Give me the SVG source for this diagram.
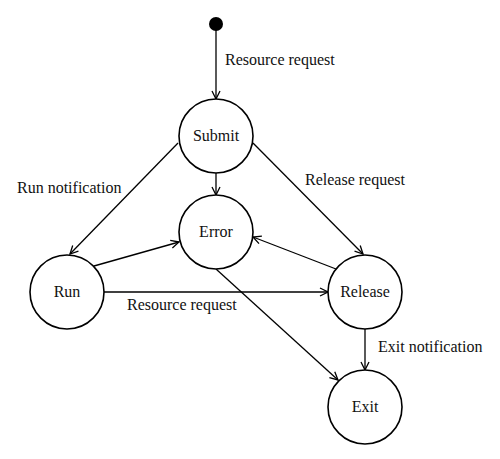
<svg xmlns="http://www.w3.org/2000/svg" width="500" height="459" viewBox="0 0 500 459">
<defs>
<marker id="arr" viewBox="0 0 10 10" refX="9" refY="5" markerWidth="10" markerHeight="10" markerUnits="userSpaceOnUse" orient="auto">
<path d="M1,1 L9,5 L1,9" fill="none" stroke="#000" stroke-width="1.3"/>
</marker>
<style>
.n{fill:#fff;stroke:#000;stroke-width:1.6}
.t{font-family:"Liberation Serif",serif;font-size:16px;fill:#111}
.c{text-anchor:middle}
.e{stroke:#000;stroke-width:1.3;fill:none;marker-end:url(#arr)}
</style>
</defs>
<rect width="500" height="459" fill="#fff"/>
<g id="connectors">
<line class="e" x1="216" y1="28" x2="216" y2="99"/>
<line class="e" x1="216" y1="173" x2="216" y2="195"/>
<line class="e" x1="178" y1="143" x2="70" y2="254"/>
<line class="e" x1="253" y1="143" x2="363" y2="254"/>
<line class="e" x1="94" y1="266" x2="179" y2="242"/>
<line class="e" x1="336" y1="269" x2="253" y2="237"/>
<line class="e" x1="104" y1="292" x2="328" y2="292"/>
<line class="e" x1="216" y1="269" x2="338" y2="380"/>
<line class="e" x1="365" y1="329" x2="365" y2="370"/>
</g>
<g id="start"><circle cx="216" cy="24" r="7" fill="#000"/></g>
<g id="submit"><circle class="n" cx="216" cy="136" r="37"/><text class="t c" x="216" y="141">Submit</text></g>
<g id="error"><circle class="n" cx="216" cy="232" r="37"/><text class="t c" x="216" y="237">Error</text></g>
<g id="run"><circle class="n" cx="67" cy="292" r="37"/><text class="t c" x="67" y="297">Run</text></g>
<g id="release"><circle class="n" cx="365" cy="292" r="37"/><text class="t c" x="365" y="297">Release</text></g>
<g id="exit"><circle class="n" cx="365" cy="407" r="37"/><text class="t c" x="365" y="412">Exit</text></g>
<g id="labels">
<text class="t" x="225" y="65">Resource request</text>
<text class="t" x="17" y="193">Run notification</text>
<text class="t" x="305" y="185">Release request</text>
<text class="t" x="127" y="310">Resource request</text>
<text class="t" x="378" y="352">Exit notification</text>
</g>
</svg>
